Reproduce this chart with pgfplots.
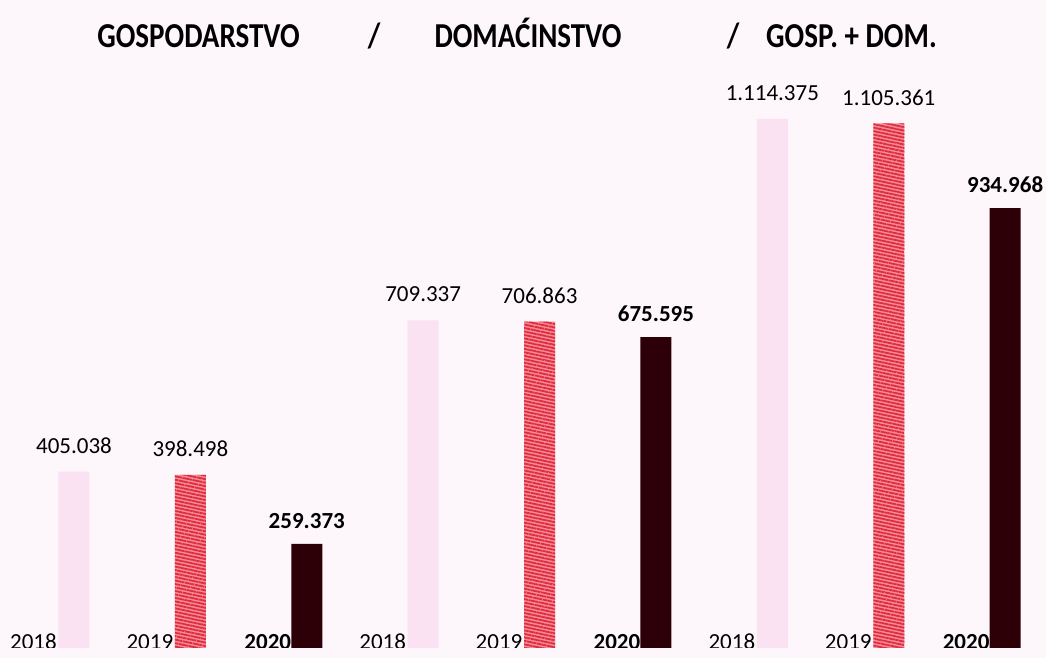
\documentclass[border=0pt]{standalone}
\usepackage{fontspec}
\setmainfont{Carlito}
\newfontfamily\titlefont[FakeStretch=0.83]{Carlito}
\usepackage{pgfplots}
\pgfplotsset{compat=1.18}
\usetikzlibrary{patterns.meta}
\definecolor{bgpink}{RGB}{253,246,251}
\definecolor{c2018}{RGB}{250,226,242}
\definecolor{c2019a}{RGB}{247,140,150}
\definecolor{c2019b}{RGB}{222,45,65}
\definecolor{c2020}{RGB}{45,0,8}
\newcommand{\lblfont}{\fontsize{23}{27}\selectfont}
\tikzset{
  yearlbl/.style={anchor=base east, font=\lblfont, inner sep=0pt, xshift=-17pt, yshift=-2pt},
  yearlblb/.style={anchor=base east, font=\bfseries\lblfont, inner sep=0pt, xshift=-15.5pt, yshift=-2pt},
}
\begin{document}
\begin{tikzpicture}
\fill[bgpink] (0,0) rectangle (1046pt,658pt);
\begin{axis}[
  at={(0pt,10pt)}, anchor=south west,
  scale only axis, width=1046pt, height=648pt,
  hide axis,
  xmin=-0.6357, xmax=8.3505,
  ymin=50000, ymax=1353823,
  ybar, bar width=31pt, bar shift=0pt,
  nodes near coords, point meta=explicit symbolic,
  every node near coord/.append style={font=\lblfont, anchor=south, inner sep=0pt, yshift=18pt, text=black},
]
\addplot[fill=c2018, draw=none] table[meta=label] {
x y label
0 405038 405.038
3 709337 709.337
6 1114375 1.114.375
};
\addplot[fill=c2019a, draw=none, postaction={pattern={Lines[angle=-12, distance=3.4pt, line width=1.8pt]}, pattern color=c2019b}] table[meta=label] {
x y label
1 398498 398.498
4 706863 706.863
7 1105361 1.105.361
};
\addplot[fill=c2020, draw=none, every node near coord/.append style={font=\bfseries\lblfont, yshift=-3pt}] table[meta=label] {
x y label
2 259373 259.373
5 675595 675.595
8 934968 934.968
};
\node[yearlbl] at (axis cs:0,50000) {2018};
\node[yearlbl] at (axis cs:3,50000) {2018};
\node[yearlbl] at (axis cs:6,50000) {2018};
\node[yearlbl] at (axis cs:1,50000) {2019};
\node[yearlbl] at (axis cs:4,50000) {2019};
\node[yearlbl] at (axis cs:7,50000) {2019};
\node[yearlblb] at (axis cs:2,50000) {2020};
\node[yearlblb] at (axis cs:5,50000) {2020};
\node[yearlblb] at (axis cs:8,50000) {2020};
\end{axis}
\begin{scope}[every node/.style={anchor=base, inner sep=0pt, font=\titlefont\bfseries\fontsize{35}{40}\selectfont}]
\node at (198.5pt,610pt) {GOSPODARSTVO};
\node at (374pt,610pt) {/};
\node at (528pt,610pt) {DOMAĆINSTVO};
\node at (733pt,610pt) {/};
\node at (851.5pt,610pt) {GOSP. + DOM.};
\end{scope}
\end{tikzpicture}
\end{document}
